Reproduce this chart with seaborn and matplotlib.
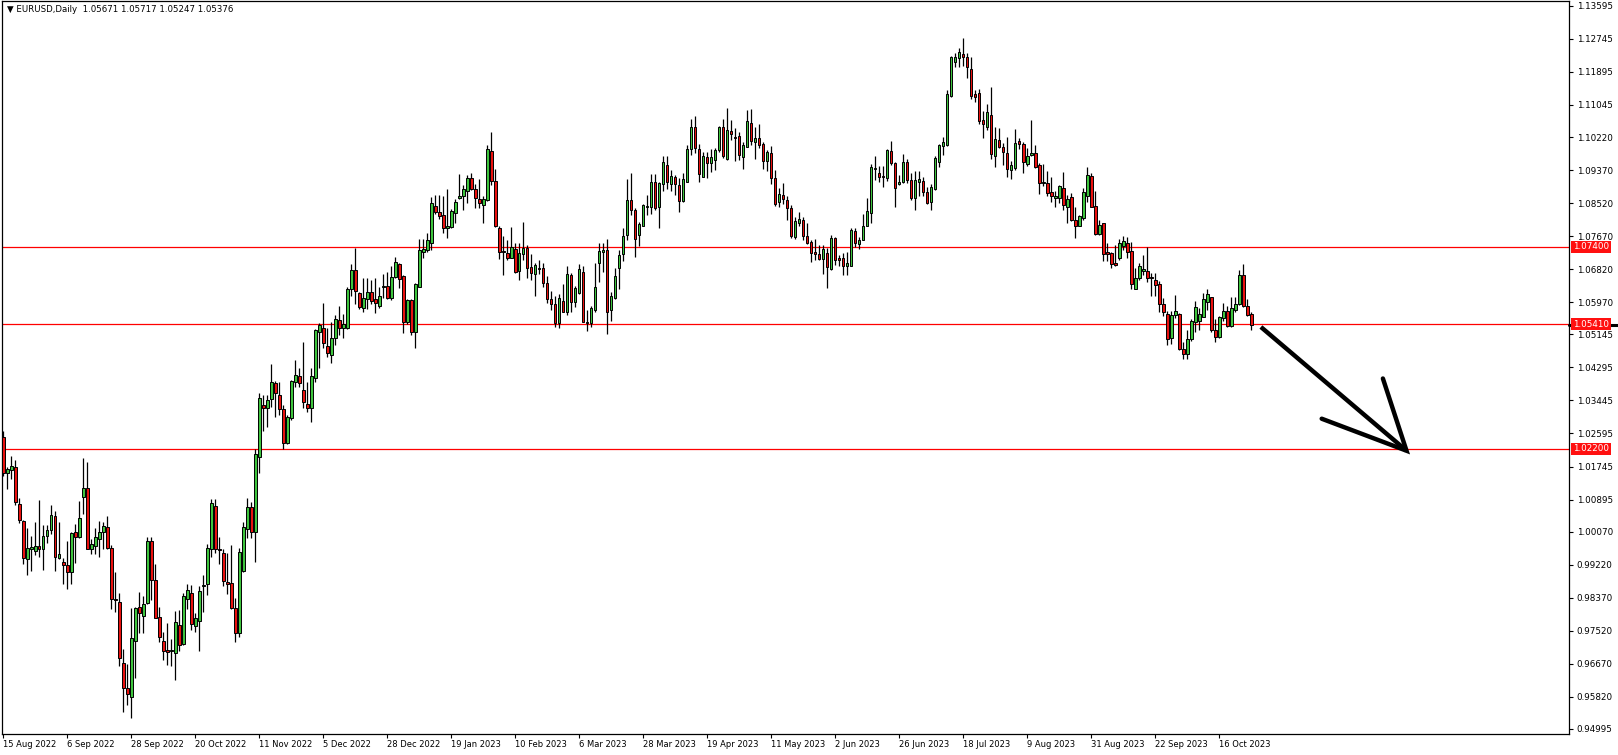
import numpy as np
import pandas as pd
import matplotlib
matplotlib.use("Agg")
import matplotlib.pyplot as plt
import matplotlib.transforms as mtransforms
import seaborn as sns

# ---------------- data (EURUSD daily) ----------------
symbol_title = "EURUSD,Daily"
last_ohlc = ["1.05671", "1.05717", "1.05247", "1.05376"]

opens = [
    1.0251, 1.0157, 1.0165, 1.0173, 1.0077, 1.0034, 0.9936, 0.9963, 0.9958, 0.9970,
    0.9962, 0.9996, 1.0011, 1.0047, 0.9940, 0.9929, 0.9921, 0.9902, 1.0005, 0.9992,
    1.0095, 1.0119, 0.9963, 0.9971, 0.9988, 1.0005, 1.0019, 0.9964, 0.9833, 0.9825,
    0.9669, 0.9604, 0.9581, 0.9727, 0.9813, 0.9790, 0.9823, 0.9982, 0.9883, 0.9787,
    0.9727, 0.9702, 0.9699, 0.9694, 0.9766, 0.9718, 0.9833, 0.9849, 0.9765, 0.9778,
    0.9866, 0.9872, 0.9962, 1.0073, 0.9963, 0.9951, 0.9877, 0.9874, 0.9810, 0.9746,
    0.9906, 1.0013, 1.0070, 1.0005, 1.0198, 1.0332, 1.0324, 1.0348, 1.0389, 1.0358,
    1.0323, 1.0236, 1.0300, 1.0393, 1.0408, 1.0372, 1.0336, 1.0324, 1.0403, 1.0520,
    1.0530, 1.0485, 1.0462, 1.0504, 1.0551, 1.0530, 1.0530, 1.0630, 1.0679, 1.0620,
    1.0582, 1.0605, 1.0624, 1.0605, 1.0588, 1.0635, 1.0639, 1.0607, 1.0661, 1.0695,
    1.0665, 1.0546, 1.0602, 1.0520, 1.0637, 1.0725, 1.0732, 1.0750, 1.0845, 1.0828,
    1.0822, 1.0787, 1.0790, 1.0826, 1.0864, 1.0871, 1.0884, 1.0916, 1.0888, 1.0862,
    1.0846, 1.0860, 1.0986, 1.0909, 1.0787, 1.0729, 1.0723, 1.0712, 1.0733, 1.0678,
    1.0720, 1.0737, 1.0688, 1.0669, 1.0686, 1.0684, 1.0646, 1.0605, 1.0592, 1.0543,
    1.0601, 1.0573, 1.0667, 1.0597, 1.0622, 1.0674, 1.0547, 1.0543, 1.0576, 1.0699,
    1.0727, 1.0732, 1.0576, 1.0609, 1.0686, 1.0720, 1.0770, 1.0860, 1.0834, 1.0770,
    1.0794, 1.0843, 1.0843, 1.0906, 1.0841, 1.0900, 1.0950, 1.0900, 1.0920, 1.0899,
    1.0858, 1.0907, 1.0990, 1.1047, 1.0991, 1.0920, 1.0970, 1.0954, 1.0963, 1.0989,
    1.1047, 1.0965, 1.1038, 1.1023, 1.1025, 1.0970, 1.0997, 1.1057, 1.1010, 1.1019,
    1.1004, 1.0960, 1.0980, 1.0916, 1.0854, 1.0873, 1.0860, 1.0839, 1.0766, 1.0802,
    1.0809, 1.0768, 1.0751, 1.0726, 1.0720, 1.0708, 1.0723, 1.0683, 1.0762, 1.0710,
    1.0710, 1.0691, 1.0691, 1.0780, 1.0746, 1.0757, 1.0793, 1.0826, 1.0939, 1.0930,
    1.0922, 1.0916, 1.0986, 1.0954, 1.0900, 1.0906, 1.0957, 1.0912, 1.0864, 1.0907,
    1.0909, 1.0880, 1.0854, 1.0888, 1.0959, 1.1000, 1.1002, 1.1128, 1.1214, 1.1224,
    1.1235, 1.1227, 1.1196, 1.1133, 1.1134, 1.1066, 1.1049, 1.1078, 1.0974, 1.1014,
    1.0996, 1.0980, 1.0936, 1.0942, 1.1012, 1.1003, 1.0952, 1.0976, 1.0980, 1.0950,
    1.0905, 1.0903, 1.0880, 1.0864, 1.0864, 1.0890, 1.0843, 1.0867, 1.0809, 1.0793,
    1.0813, 1.0871, 1.0922, 1.0845, 1.0773, 1.0800, 1.0726, 1.0723, 1.0697, 1.0712,
    1.0742, 1.0749, 1.0729, 1.0632, 1.0659, 1.0678, 1.0678, 1.0663, 1.0654, 1.0643,
    1.0592, 1.0566, 1.0504, 1.0563, 1.0567, 1.0477, 1.0463, 1.0502, 1.0547, 1.0550,
    1.0560, 1.0597, 1.0610, 1.0526, 1.0507, 1.0556, 1.0575, 1.0536, 1.0577, 1.0593,
    1.0667, 1.0587, 1.05671,
]

highs = [
    1.0267, 1.0174, 1.0202, 1.0191, 1.0093, 1.0037, 1.0016, 0.9996, 1.0032, 1.0089,
    1.0025, 1.0024, 1.0076, 1.0059, 1.0032, 0.9939, 0.9984, 1.0005, 1.0026, 1.0087,
    1.0196, 1.0186, 0.9987, 1.0017, 1.0035, 1.0032, 1.0047, 0.9973, 0.9903, 0.9850,
    0.9705, 0.9666, 0.9810, 0.9814, 0.9851, 0.9842, 0.9994, 0.9994, 0.9924, 0.9813,
    0.9748, 0.9771, 0.9731, 0.9803, 0.9806, 0.9849, 0.9872, 0.9870, 0.9799, 0.9867,
    0.9896, 0.9975, 1.0090, 1.0090, 0.9994, 0.9962, 0.9951, 0.9973, 0.9837, 0.9964,
    1.0032, 1.0093, 1.0084, 1.0219, 1.0363, 1.0359, 1.0359, 1.0438, 1.0395, 1.0393,
    1.0333, 1.0307, 1.0396, 1.0449, 1.0427, 1.0496, 1.0393, 1.0429, 1.0528, 1.0543,
    1.0594, 1.0530, 1.0547, 1.0564, 1.0588, 1.0566, 1.0637, 1.0695, 1.0736, 1.0624,
    1.0659, 1.0659, 1.0654, 1.0659, 1.0635, 1.0669, 1.0676, 1.0689, 1.0714, 1.0697,
    1.0667, 1.0605, 1.0605, 1.0646, 1.0760, 1.0760, 1.0774, 1.0867, 1.0873, 1.0873,
    1.0869, 1.0888, 1.0836, 1.0862, 1.0926, 1.0899, 1.0924, 1.0929, 1.0900, 1.0913,
    1.0870, 1.1002, 1.1034, 1.0939, 1.0792, 1.0768, 1.0756, 1.0790, 1.0749, 1.0749,
    1.0804, 1.0744, 1.0721, 1.0699, 1.0706, 1.0697, 1.0665, 1.0627, 1.0612, 1.0618,
    1.0644, 1.0690, 1.0672, 1.0639, 1.0695, 1.0691, 1.0576, 1.0588, 1.0697, 1.0749,
    1.0750, 1.0759, 1.0624, 1.0684, 1.0732, 1.0787, 1.0914, 1.0929, 1.0839, 1.0804,
    1.0849, 1.0873, 1.0927, 1.0926, 1.0906, 1.0974, 1.0972, 1.0937, 1.0924, 1.0916,
    1.0929, 1.1002, 1.1068, 1.1076, 1.1003, 1.0984, 1.0984, 1.0991, 1.0995, 1.1050,
    1.1068, 1.1096, 1.1066, 1.1044, 1.1036, 1.1010, 1.1092, 1.1094, 1.1049, 1.1055,
    1.1008, 1.0989, 1.1000, 1.0937, 1.0890, 1.0903, 1.0870, 1.0847, 1.0817, 1.0830,
    1.0817, 1.0800, 1.0757, 1.0759, 1.0744, 1.0744, 1.0736, 1.0770, 1.0766, 1.0719,
    1.0723, 1.0727, 1.0787, 1.0787, 1.0766, 1.0824, 1.0864, 1.0953, 1.0972, 1.0948,
    1.0948, 1.0991, 1.1012, 1.0959, 1.0924, 1.0978, 1.0965, 1.0929, 1.0935, 1.0935,
    1.0918, 1.0894, 1.0901, 1.0973, 1.1003, 1.1021, 1.1143, 1.1230, 1.1239, 1.1250,
    1.1276, 1.1239, 1.1229, 1.1143, 1.1145, 1.1089, 1.1106, 1.1150, 1.1047, 1.1046,
    1.1006, 1.1021, 1.0960, 1.1043, 1.1019, 1.1010, 1.0993, 1.1066, 1.1002, 1.0954,
    1.0953, 1.0935, 1.0918, 1.0882, 1.0899, 1.0931, 1.0873, 1.0877, 1.0841, 1.0822,
    1.0890, 1.0946, 1.0929, 1.0883, 1.0809, 1.0802, 1.0749, 1.0727, 1.0744, 1.0759,
    1.0768, 1.0764, 1.0753, 1.0684, 1.0697, 1.0719, 1.0738, 1.0672, 1.0673, 1.0652,
    1.0607, 1.0575, 1.0575, 1.0616, 1.0569, 1.0496, 1.0526, 1.0553, 1.0600, 1.0581,
    1.0620, 1.0630, 1.0611, 1.0553, 1.0562, 1.0596, 1.0587, 1.0611, 1.0611, 1.0680,
    1.0695, 1.0605, 1.05717,
]

lows = [
    1.0150, 1.0118, 1.0142, 1.0075, 1.0029, 0.9923, 0.9895, 0.9906, 0.9946, 0.9943,
    0.9909, 0.9979, 1.0001, 0.9906, 0.9936, 0.9873, 0.9860, 0.9873, 0.9927, 0.9990,
    1.0053, 0.9962, 0.9950, 0.9950, 0.9941, 0.9963, 0.9962, 0.9809, 0.9801, 0.9662,
    0.9544, 0.9561, 0.9527, 0.9630, 0.9747, 0.9747, 0.9821, 0.9830, 0.9784, 0.9722,
    0.9676, 0.9664, 0.9662, 0.9626, 0.9701, 0.9715, 0.9807, 0.9753, 0.9750, 0.9699,
    0.9801, 0.9844, 0.9941, 0.9953, 0.9924, 0.9867, 0.9847, 0.9807, 0.9724, 0.9737,
    0.9904, 0.9990, 0.9990, 0.9930, 1.0159, 1.0266, 1.0277, 1.0328, 1.0303, 1.0307,
    1.0219, 1.0233, 1.0293, 1.0380, 1.0378, 1.0326, 1.0316, 1.0288, 1.0391, 1.0429,
    1.0479, 1.0457, 1.0440, 1.0487, 1.0513, 1.0504, 1.0528, 1.0612, 1.0592, 1.0580,
    1.0573, 1.0580, 1.0592, 1.0570, 1.0583, 1.0607, 1.0606, 1.0603, 1.0659, 1.0633,
    1.0517, 1.0541, 1.0513, 1.0479, 1.0636, 1.0710, 1.0725, 1.0732, 1.0823, 1.0810,
    1.0774, 1.0763, 1.0787, 1.0802, 1.0862, 1.0833, 1.0853, 1.0886, 1.0839, 1.0839,
    1.0800, 1.0858, 1.0899, 1.0790, 1.0708, 1.0667, 1.0706, 1.0710, 1.0673, 1.0653,
    1.0706, 1.0659, 1.0653, 1.0612, 1.0670, 1.0635, 1.0596, 1.0576, 1.0534, 1.0532,
    1.0571, 1.0564, 1.0573, 1.0586, 1.0618, 1.0545, 1.0523, 1.0534, 1.0573, 1.0648,
    1.0676, 1.0515, 1.0550, 1.0606, 1.0630, 1.0702, 1.0757, 1.0822, 1.0713, 1.0742,
    1.0792, 1.0822, 1.0824, 1.0834, 1.0787, 1.0882, 1.0888, 1.0884, 1.0873, 1.0830,
    1.0856, 1.0906, 1.0976, 1.0980, 1.0907, 1.0918, 1.0916, 1.0933, 1.0937, 1.0984,
    1.0967, 1.0963, 1.1014, 1.0961, 1.0963, 1.0940, 1.0996, 1.1002, 1.0966, 1.0995,
    1.0940, 1.0935, 1.0900, 1.0845, 1.0843, 1.0850, 1.0809, 1.0762, 1.0760, 1.0793,
    1.0757, 1.0747, 1.0700, 1.0706, 1.0706, 1.0670, 1.0633, 1.0681, 1.0693, 1.0689,
    1.0667, 1.0667, 1.0690, 1.0738, 1.0733, 1.0756, 1.0792, 1.0802, 1.0912, 1.0907,
    1.0893, 1.0910, 1.0950, 1.0843, 1.0899, 1.0903, 1.0903, 1.0860, 1.0833, 1.0869,
    1.0869, 1.0850, 1.0833, 1.0886, 1.0944, 1.0976, 1.1000, 1.1126, 1.1203, 1.1203,
    1.1205, 1.1175, 1.1119, 1.1113, 1.1056, 1.1020, 1.1040, 1.0965, 1.0944, 1.0993,
    1.0950, 1.0918, 1.0913, 1.0936, 1.0991, 1.0929, 1.0948, 1.0972, 1.0942, 1.0875,
    1.0897, 1.0871, 1.0856, 1.0843, 1.0852, 1.0833, 1.0802, 1.0806, 1.0763, 1.0792,
    1.0809, 1.0854, 1.0841, 1.0770, 1.0770, 1.0703, 1.0702, 1.0684, 1.0691, 1.0706,
    1.0732, 1.0712, 1.0630, 1.0631, 1.0654, 1.0667, 1.0648, 1.0614, 1.0614, 1.0573,
    1.0562, 1.0486, 1.0489, 1.0556, 1.0474, 1.0450, 1.0450, 1.0498, 1.0521, 1.0526,
    1.0558, 1.0577, 1.0521, 1.0496, 1.0504, 1.0550, 1.0534, 1.0534, 1.0573, 1.0590,
    1.0586, 1.0562, 1.05247,
]

closes = [
    1.0157, 1.0167, 1.0175, 1.0083, 1.0036, 0.9938, 0.9964, 0.9968, 0.9970, 0.9962,
    0.9996, 1.0011, 1.0050, 0.9943, 0.9950, 0.9922, 0.9902, 1.0003, 0.9994, 1.0042,
    1.0119, 0.9963, 0.9975, 0.9993, 1.0005, 1.0022, 0.9966, 0.9833, 0.9830, 0.9681,
    0.9604, 0.9589, 0.9733, 0.9810, 0.9797, 0.9820, 0.9982, 0.9883, 0.9786, 0.9736,
    0.9699, 0.9697, 0.9702, 0.9774, 0.9715, 0.9842, 0.9856, 0.9769, 0.9784, 0.9855,
    0.9870, 0.9964, 1.0080, 0.9962, 0.9960, 0.9879, 0.9872, 0.9810, 0.9746, 0.9954,
    1.0018, 1.0070, 1.0007, 1.0206, 1.0350, 1.0324, 1.0346, 1.0392, 1.0363, 1.0322,
    1.0236, 1.0302, 1.0395, 1.0410, 1.0390, 1.0340, 1.0326, 1.0408, 1.0526, 1.0539,
    1.0492, 1.0466, 1.0504, 1.0553, 1.0530, 1.0540, 1.0630, 1.0679, 1.0626, 1.0584,
    1.0607, 1.0623, 1.0601, 1.0596, 1.0614, 1.0639, 1.0607, 1.0661, 1.0700, 1.0656,
    1.0547, 1.0602, 1.0520, 1.0643, 1.0732, 1.0733, 1.0757, 1.0852, 1.0830, 1.0820,
    1.0787, 1.0793, 1.0832, 1.0856, 1.0871, 1.0888, 1.0916, 1.0889, 1.0866, 1.0852,
    1.0862, 1.0990, 1.0910, 1.0792, 1.0725, 1.0725, 1.0712, 1.0738, 1.0676, 1.0723,
    1.0737, 1.0686, 1.0672, 1.0693, 1.0683, 1.0646, 1.0605, 1.0592, 1.0543, 1.0607,
    1.0573, 1.0669, 1.0597, 1.0633, 1.0682, 1.0547, 1.0543, 1.0582, 1.0637, 1.0729,
    1.0732, 1.0573, 1.0612, 1.0665, 1.0719, 1.0768, 1.0860, 1.0833, 1.0759, 1.0798,
    1.0846, 1.0845, 1.0906, 1.0839, 1.0903, 1.0957, 1.0907, 1.0922, 1.0900, 1.0858,
    1.0913, 1.0991, 1.1047, 1.0993, 1.0926, 1.0973, 1.0956, 1.0970, 1.0989, 1.1047,
    1.0974, 1.1040, 1.1029, 1.1019, 1.0976, 1.1002, 1.1063, 1.1013, 1.1019, 1.1002,
    1.0961, 1.0983, 1.0916, 1.0849, 1.0875, 1.0862, 1.0839, 1.0768, 1.0806, 1.0810,
    1.0768, 1.0749, 1.0723, 1.0721, 1.0708, 1.0733, 1.0687, 1.0763, 1.0706, 1.0706,
    1.0691, 1.0697, 1.0783, 1.0749, 1.0757, 1.0793, 1.0832, 1.0944, 1.0943, 1.0920,
    1.0918, 1.0989, 1.0956, 1.0890, 1.0907, 1.0959, 1.0912, 1.0864, 1.0912, 1.0914,
    1.0880, 1.0853, 1.0893, 1.0969, 1.1002, 1.1008, 1.1133, 1.1227, 1.1227, 1.1240,
    1.1229, 1.1203, 1.1128, 1.1126, 1.1064, 1.1055, 1.1086, 1.0978, 1.1016, 1.0997,
    1.0984, 1.0939, 1.0950, 1.1006, 1.1003, 1.0957, 1.0973, 1.0980, 1.0944, 1.0905,
    1.0907, 1.0879, 1.0871, 1.0870, 1.0896, 1.0846, 1.0862, 1.0809, 1.0794, 1.0819,
    1.0881, 1.0924, 1.0843, 1.0772, 1.0796, 1.0720, 1.0721, 1.0695, 1.0693, 1.0749,
    1.0755, 1.0727, 1.0643, 1.0659, 1.0691, 1.0683, 1.0659, 1.0659, 1.0642, 1.0592,
    1.0571, 1.0502, 1.0564, 1.0575, 1.0477, 1.0463, 1.0502, 1.0549, 1.0584, 1.0566,
    1.0605, 1.0618, 1.0526, 1.0507, 1.0558, 1.0575, 1.0536, 1.0581, 1.0593, 1.0667,
    1.0587, 1.0563, 1.05376,
]

date_labels = [
    "15 Aug 2022", "6 Sep 2022", "28 Sep 2022", "20 Oct 2022", "11 Nov 2022",
    "5 Dec 2022", "28 Dec 2022", "19 Jan 2023", "10 Feb 2023", "6 Mar 2023",
    "28 Mar 2023", "19 Apr 2023", "11 May 2023", "2 Jun 2023", "26 Jun 2023",
    "18 Jul 2023", "9 Aug 2023", "31 Aug 2023", "22 Sep 2023", "16 Oct 2023",
]
bars_per_label = 16

price_ticks = [
    1.13595, 1.12745, 1.11895, 1.11045, 1.10220, 1.09370, 1.08520, 1.07670,
    1.06820, 1.05970, 1.05145, 1.04295, 1.03445, 1.02595, 1.01745, 1.00895,
    1.00070, 0.99220, 0.98370, 0.97520, 0.96670, 0.95820, 0.94995,
]
level_prices = [1.07400, 1.05410, 1.02200]
bid_price = 1.05376

# arrow drawn on the chart (bar index, price)
arrow_start = (314.4, 1.05334)
arrow_tip = (350.8, 1.02152)
arrow_head_a = (329.6, 1.02975)
arrow_head_b = (344.9, 1.04009)

# ---------------- figure ----------------
sns.set_theme(style="white")
plt.rcParams["font.family"] = ["DejaVu Sans"]

W, H = 1618, 755
fig = plt.figure(figsize=(W / 100, H / 100), dpi=100)
fig.patch.set_facecolor("white")
ax_left, ax_right, ax_top, ax_bot = 2, 1569, 1, 734
ax = fig.add_axes([ax_left / W, 1 - ax_bot / H, (ax_right - ax_left) / W, (ax_bot - ax_top) / H])
ax.set_facecolor("white")

df = pd.DataFrame({"open": opens, "high": highs, "low": lows, "close": closes})
df["i"] = np.arange(len(df))
df["up"] = df["close"] >= df["open"]
df["bottom"] = df[["open", "close"]].min(axis=1)
df["body"] = (df["close"] - df["open"]).abs()

GREEN = "#3ec43e"
RED = "#e8110f"

ax.vlines(df["i"], df["low"], df["high"], color="black", linewidth=0.9, zorder=2)
ax.bar(df["i"], df["body"], bottom=df["bottom"], width=0.6,
       color=np.where(df["up"], GREEN, RED), edgecolor="black", linewidth=0.7, zorder=3)

for lv in level_prices:
    ax.axhline(lv, color="red", linewidth=0.9, zorder=1)

# arrow
ax.plot([arrow_start[0], arrow_tip[0]], [arrow_start[1], arrow_tip[1]],
        color="black", linewidth=3.2, solid_capstyle="butt", zorder=5)
ax.plot([arrow_head_a[0], arrow_tip[0], arrow_head_b[0]],
        [arrow_head_a[1], arrow_tip[1], arrow_head_b[1]],
        color="black", linewidth=3.2, solid_joinstyle="miter", zorder=5)

# axis limits: 4 px per bar, first bar at x=3.3px
px_per_bar = 4.0
x0 = (ax_left - 3.3) / px_per_bar
x1 = (ax_right - 3.3) / px_per_bar
ax.set_xlim(x0, x1)
ax.set_ylim(0.94866, 1.13718)

# x ticks
xt = [k * bars_per_label for k in range(len(date_labels))]
ax.set_xticks(xt)
ax.set_xticklabels(date_labels, fontsize=6.0, color="black")
offset = mtransforms.ScaledTranslation(2 / 100, 0, fig.dpi_scale_trans)
for lab in ax.get_xticklabels():
    lab.set_horizontalalignment("left")
    lab.set_transform(lab.get_transform() + offset)
ax.tick_params(axis="x", direction="out", length=3, width=0.8, pad=1.5, colors="black", bottom=True)

# y ticks on right
ax.yaxis.tick_right()
ax.set_yticks(price_ticks)
ax.set_yticklabels([f"{v:.5f}" for v in price_ticks], fontsize=6.3, color="black")
ax.tick_params(axis="y", direction="out", length=3, width=0.8, pad=2.5, colors="black", right=True, left=False)

for sp in ax.spines.values():
    sp.set_color("black")
    sp.set_linewidth(0.9)
    sp.set_visible(True)

# bid marker and level price tags
ytrans = mtransforms.blended_transform_factory(ax.transAxes, ax.transData)
ax.plot([1.0, 1.031], [bid_price, bid_price], transform=ytrans, color="black",
        linewidth=2.2, clip_on=False, zorder=6)
for lv in level_prices:
    ax.annotate(f"{lv:.5f}", xy=(1.0, lv), xycoords=ytrans, xytext=(4, 0),
                textcoords="offset pixels", ha="left", va="center", fontsize=6.3,
                color="white", annotation_clip=False, zorder=7,
                bbox=dict(boxstyle="square,pad=0.18", facecolor="#ff1010", edgecolor="none"))

# header
ax.text(5 / (ax_right - ax_left), 1 - 4 / (ax_bot - ax_top),
        "\u25BC " + symbol_title + "  " + " ".join(last_ohlc),
        transform=ax.transAxes, ha="left", va="top", fontsize=6.2, color="black")

ax.grid(False)
fig.savefig("out.png", dpi=100, facecolor="white")
